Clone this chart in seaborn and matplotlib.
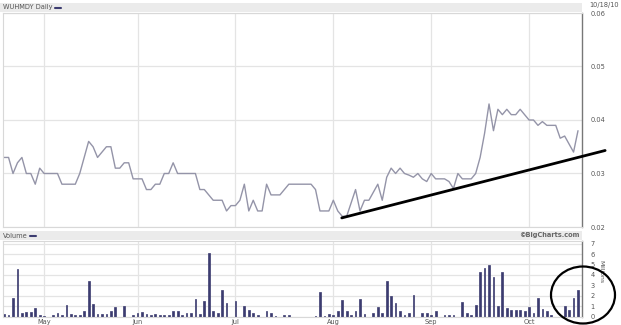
import numpy as np
import pandas as pd
import matplotlib
matplotlib.use("Agg")
import matplotlib.pyplot as plt
import seaborn as sns
from matplotlib.patches import Rectangle, Ellipse
from matplotlib.lines import Line2D

# ---------------- data ----------------
dates = pd.bdate_range("2010-04-20", "2010-10-18")  # weekday slots (130)

price = [
    0.033, 0.033, 0.030, 0.032, 0.033, 0.030, 0.030, 0.028, 0.031, 0.030,
    0.030, 0.030, 0.030, 0.028, 0.028, 0.028, 0.028, 0.030, 0.033, 0.036,
    0.035, 0.033, 0.034, 0.035, 0.035, 0.031, 0.031, 0.032, 0.032, 0.029,
    0.029, 0.029, 0.027, 0.027, 0.028, 0.028, 0.030, 0.030, 0.032, 0.030,
    0.030, 0.030, 0.030, 0.030, 0.027, 0.027, 0.026, 0.025, 0.025, 0.025,
    0.023, 0.024, 0.024, 0.025, 0.028, 0.023, 0.025, 0.023, 0.023, 0.028,
    0.026, 0.026, 0.026, 0.027, 0.028, 0.028, 0.028, 0.028, 0.028, 0.028,
    0.027, 0.023, 0.023, 0.023, 0.025, 0.023, 0.022, 0.022, 0.0245, 0.027,
    0.023, 0.025, 0.025, 0.0265, 0.028, 0.025, 0.0293, 0.031, 0.030, 0.031,
    0.030, 0.0297, 0.0293, 0.030, 0.029, 0.0285, 0.030, 0.029, 0.029, 0.029,
    0.0285, 0.0272, 0.030, 0.029, 0.029, 0.029, 0.030, 0.033, 0.0375, 0.043,
    0.038, 0.042, 0.041, 0.042, 0.041, 0.041, 0.042, 0.041, 0.040, 0.040,
    0.039, 0.0397, 0.039, 0.039, 0.039, 0.0366, 0.037, 0.0355, 0.034, 0.038,
]

volume = [
    0.26, 0.16, 1.8, 4.6, 0.36, 0.42, 0.42, 0.85, 0.16, 0.05,
    0, 0.16, 0.36, 0.16, 1.07, 0.2, 0.1, 0.16, 0.49, 3.4,
    1.23, 0.26, 0.26, 0.26, 0.49, 0.9, 0, 0.97, 0, 0.16,
    0.36, 0.42, 0.26, 0.1, 0.26, 0.1, 0.1, 0.16, 0.49, 0.49,
    0.1, 0.33, 0.33, 1.7, 0.26, 1.5, 6.1, 0.49, 0.36, 2.5,
    1.33, 0, 1.45, 0, 1.0, 0.62, 0.33, 0.16, 0, 0.55,
    0.36, 0.05, 0, 0.1, 0.1, 0, 0, 0, 0, 0,
    0.05, 2.36, 0.05, 0.26, 0.16, 0.55, 1.6, 0.55, 0.16, 0.55,
    1.7, 0.26, 0, 0.36, 0.9, 0.36, 3.4, 2.0, 1.3, 0.55,
    0.16, 0.36, 2.1, 0, 0.35, 0.35, 0.19, 0.54, 0, 0.19,
    0.19, 0.19, 0, 1.4, 0.38, 0.12, 1.15, 4.3, 4.7, 4.9,
    3.75, 1.0, 4.3, 0.83, 0.6, 0.6, 0.6, 0.5, 0.87, 0.29,
    1.73, 0.7, 0.5, 0.19, 0, 0, 1.0, 0.6, 1.73, 2.5,
]

month_labels = ["May", "Jun", "Jul", "Aug", "Sep", "Oct"]
month_starts = ["2010-05-03", "2010-06-01", "2010-07-01",
                "2010-08-02", "2010-09-01", "2010-10-01"]
price_ticks = [0.02, 0.03, 0.04, 0.05, 0.06]
price_tick_labels = ["0.02", "0.03", "0.04", "0.05", "0.06"]
volume_ticks = [0, 1, 2, 3, 4, 5, 6, 7]

title_text = "WUHMDY Daily"
date_text = "10/18/10"
volume_text = "Volume"
credit_text = "\u00a9BigCharts.com"
unit_text = "Millions"

# trend line drawn by hand (start / end in date-slot index and price)
trend_x = [75.9, 135.1]
trend_y = [0.0217, 0.0343]

# ---------------- plotting ----------------
sns.set_style("white")
plt.rcParams["font.family"] = ["DejaVu Sans"]

idx = np.arange(len(dates))
month_idx = [int(np.where(dates == pd.Timestamp(d))[0][0]) for d in month_starts]
df = pd.DataFrame({"idx": idx, "price": price, "volume": volume})

W, H = 621, 325
fig = plt.figure(figsize=(W / 100, H / 100), dpi=100)
fig.patch.set_facecolor("white")

def fx(px):
    return px / W

def fy(py):
    return 1 - py / H

grid_c = "#e4e4e4"
lab_c = "#555555"
fs = 4.8
bar_c = "#3c3c70"

# price panel
ax = fig.add_axes([fx(3), fy(227), fx(579), (227 - 13) / H])
sns.lineplot(data=df, x="idx", y="price", ax=ax, color="#9494a8", linewidth=1.0)
ax.set_xlim(-0.25, 129.9)
ax.set_ylim(0.02, 0.06)
ax.set_xticks(month_idx)
ax.set_xticklabels([])
ax.set_yticks(price_ticks)
ax.set_yticklabels(price_tick_labels)
ax.yaxis.tick_right()
ax.tick_params(axis="both", length=0, labelsize=fs, colors=lab_c, pad=6)
ax.grid(True, color=grid_c, linewidth=0.9)
ax.set_xlabel("")
ax.set_ylabel("")
for s in ["left", "top", "bottom"]:
    ax.spines[s].set_color("#d8d8d8")
    ax.spines[s].set_linewidth(0.8)
ax.spines["right"].set_color("#777777")
ax.spines["right"].set_linewidth(1.0)

# hand-drawn trend line
ax.add_line(Line2D(trend_x, trend_y, color="black", linewidth=2.0,
                   clip_on=False, solid_capstyle="round", zorder=5))

# volume panel
ax2 = fig.add_axes([fx(3), fy(316.5), fx(579), (316.5 - 241) / H])
sns.barplot(data=df, x="idx", y="volume", ax=ax2, native_scale=True,
            color=bar_c, saturation=1, width=0.4, errorbar=None,
            edgecolor=bar_c, linewidth=0.5)
ax2.set_xlim(-0.25, 129.9)
ax2.set_ylim(0, 7.25)
ax2.set_xticks(month_idx)
ax2.set_xticklabels(month_labels)
ax2.set_yticks(volume_ticks)
ax2.yaxis.tick_right()
ax2.tick_params(axis="y", length=0, labelsize=fs, colors=lab_c, pad=6)
ax2.tick_params(axis="x", length=0, labelsize=fs, colors=lab_c, pad=1.5)
ax2.grid(True, color=grid_c, linewidth=0.9)
ax2.set_axisbelow(True)
ax2.set_xlabel("")
ax2.set_ylabel("")
for s in ["left", "top", "bottom"]:
    ax2.spines[s].set_color("#d8d8d8")
    ax2.spines[s].set_linewidth(0.8)
ax2.spines["right"].set_color("#777777")
ax2.spines["right"].set_linewidth(1.0)

# header bars
for top in (3, 231):
    fig.add_artist(Rectangle((0, fy(top + 9)), fx(582), 9 / H,
                             transform=fig.transFigure, facecolor="#ebebeb",
                             edgecolor="none", zorder=0))

t1 = fig.text(fx(3), fy(7.5), title_text, fontsize=fs, color="#555555",
              va="center", ha="left")
fig.add_artist(Line2D([fx(55), fx(61)], [fy(7.5), fy(7.5)],
                      transform=fig.transFigure, color=bar_c, linewidth=1.5))
fig.text(fx(619), fy(4.5), date_text, fontsize=fs, color="#555555",
         va="center", ha="right")

fig.text(fx(3), fy(235.5), volume_text, fontsize=fs, color="#555555",
         va="center", ha="left")
fig.add_artist(Line2D([fx(30), fx(36)], [fy(235.5), fy(235.5)],
                      transform=fig.transFigure, color=bar_c, linewidth=1.5))
fig.text(fx(580), fy(235.5), credit_text, fontsize=fs, color="#666666",
         va="center", ha="right", fontweight="bold")

fig.text(fx(601), fy(272), unit_text, fontsize=fs - 0.4, color="#555555",
         va="center", ha="center", rotation=270)

# hand-drawn circle
fig.add_artist(Ellipse((fx(583), fy(295)), fx(64), 57 / H,
                       transform=fig.transFigure, fill=False,
                       edgecolor="black", linewidth=1.6, zorder=10))

fig.savefig("out.png", dpi=100, facecolor="white")
